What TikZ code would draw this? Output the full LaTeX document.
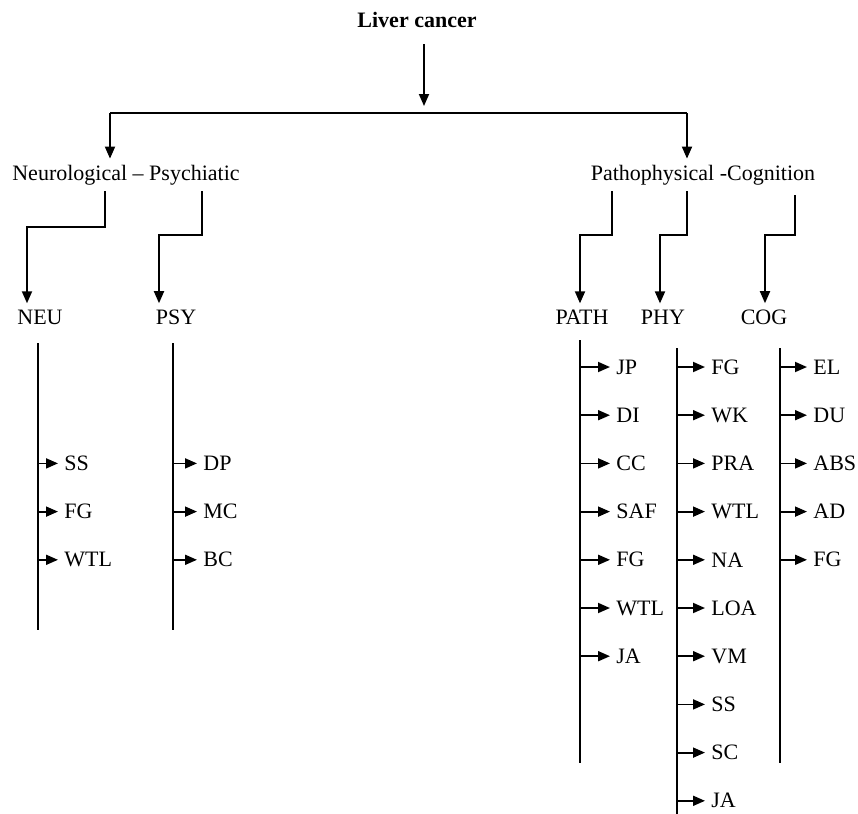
\documentclass[tikz,border=0pt]{standalone}
\usepackage{fontspec}
\setmainfont{Liberation Serif}
\usetikzlibrary{arrows.meta, positioning}

\begin{document}
\begin{tikzpicture}[x=0.5pt, y=-0.5pt,
	title/.style={font=\fontsize{11}{13}\selectfont\bfseries, inner sep=3pt},
	group/.style={font=\fontsize{11}{13}\selectfont, inner sep=3pt},
	leaf/.style={font=\fontsize{11}{13}\selectfont, anchor=west, inner sep=3pt},
	link/.style={line width=0.9pt},
	arrow/.style={link, -{Triangle[length=6pt, width=5pt]}}]

	\useasboundingbox (0,0) rectangle (858,814);

	% Root
	\node[title] (liver) at (417,20) {Liver cancer};
	\coordinate (split) at (424,113);
	\draw[arrow, shorten <=5pt, shorten >=3.5pt] (liver.south -| split) -- (split);

	% Two main groups
	\node[group] (neuro) at (126,175) {Neurological -- Psychiatic};
	\node[group] (patho) at (703,175) {Pathophysical -Cognition};

	\draw[link] (split -| 110,0) -- (split -| 687,0);
	\draw[arrow] (split -| 110,0) -- (neuro.north -| 110,0);
	\draw[arrow] (split -| 687,0) -- (patho.north -| 687,0);

	% Sub groups
	\node[group] (neu) at (40,317) {NEU};
	\node[group] (psy) at (176,317) {PSY};
	\node[group] (pathg) at (582,317) {PATH};
	\node[group] (phy) at (663,317) {PHY};
	\node[group] (cog) at (764,317) {COG};

	\draw[arrow] (neuro.south -| 105,0) -- (105,227) -| (neu.north -| 27,0);
	\draw[arrow] (neuro.south -| 202,0) -- (202,235) -| (psy.north -| 159,0);
	\draw[arrow] (patho.south -| 612,0) -- (612,235) -| (pathg.north -| 580,0);
	\draw[arrow] (patho.south -| 687,0) -- (687,235) -| (phy.north -| 660,0);
	\draw[arrow, shorten <=2pt] (patho.south -| 795,0) -- (795,235) -| (cog.north -| 765,0);

	% Item lists under each sub group
	\foreach \bar/\x/\tip/\top/\bot/\first/\items in {
		neu/38/58/343/630/2/{SS,FG,WTL},
		psy/173/197/343/630/2/{DP,MC,BC},
		pathg/580/610/340/763/0/{JP,DI,CC,SAF,FG,WTL,JA},
		phy/677/705/348/814/0/{FG,WK,PRA,WTL,NA,LOA,VM,SS,SC,JA},
		cog/780/807/348/763/0/{EL,DU,ABS,AD,FG}}
	{
		\draw[link] (\x,\top) -- (\x,\bot);
		\foreach \item [count=\i from \first] in \items {
			\node[leaf] (\bar-\i) at (\tip,367+48.2*\i) {\item};
			\draw[arrow] (\bar-\i.west -| \x,0) -- (\bar-\i.west);
		}
	}

\end{tikzpicture}
\end{document}
